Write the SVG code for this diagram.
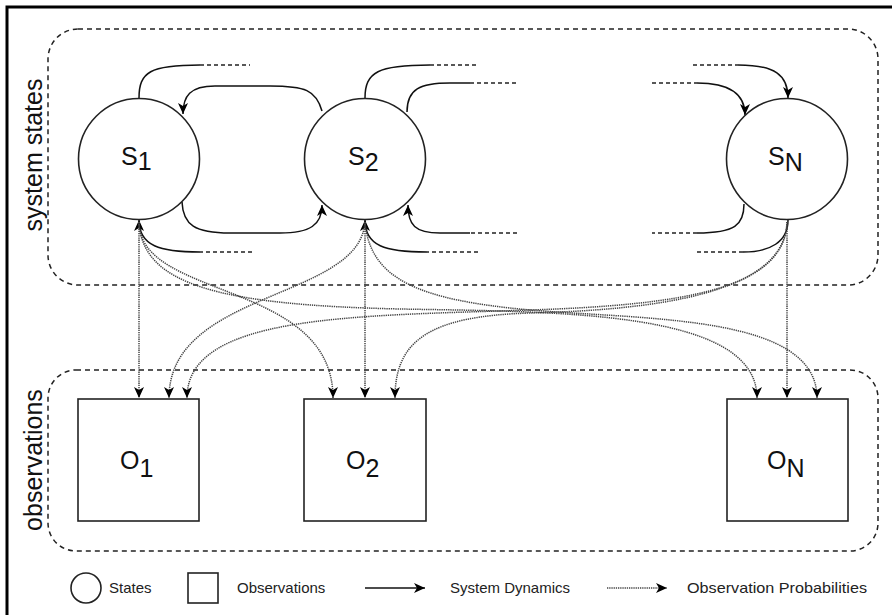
<svg xmlns="http://www.w3.org/2000/svg" width="892" height="615" viewBox="0 0 892 615">
<style>
  .frame{fill:none;stroke:#000;stroke-width:3}
  .group{fill:none;stroke:#222;stroke-width:1.5;stroke-dasharray:5 4}
  .node{fill:#fff;stroke:#222;stroke-width:1.6}
  .lbl{font-family:"Liberation Sans",Arial,sans-serif;fill:#111}
  .big{font-size:25px}
  .side{font-size:25px}
  .leg{font-size:15px;fill:#222}
  .dyn{fill:none;stroke:#111;stroke-width:1.5}
  .stub{fill:none;stroke:#222;stroke-width:1.5;stroke-dasharray:4 3}
  .obs{fill:none;stroke:#444;stroke-width:1.5;stroke-dasharray:1.3 0.9}
</style>
<defs>
  <marker id="ah" markerUnits="userSpaceOnUse" viewBox="0 0 11 10" markerWidth="11" markerHeight="10" refX="11" refY="5" orient="auto">
    <path d="M0,0 L11,5 L0,10 L3,5 Z" fill="#000"/>
  </marker>
</defs>
<rect width="892" height="615" fill="#fff"/>
<rect class="frame" x="7" y="7" width="900" height="700"/>

<g id="group-system-states">
  <rect class="group" x="48" y="29" width="830" height="256" rx="30" ry="30"/>
  <text class="lbl side" transform="translate(42,155) rotate(-90)" text-anchor="middle">system states</text>
</g>
<g id="group-observations">
  <rect class="group" x="48" y="370" width="830" height="181" rx="28" ry="28"/>
  <text class="lbl side" transform="translate(42,460) rotate(-90)" text-anchor="middle">observations</text>
</g>

<g id="connectors">
  <path class="dyn" d="M139,98 C139,72 150,65 200,65"/>
  <path class="stub" d="M200,65 L250,65"/>
  <path class="dyn" d="M322,111 C316,90 305,86 270,86 L215,86 C190,86 183,96 183,114" marker-end="url(#ah)"/>
  <path class="dyn" d="M182,202 C183,225 195,233 230,233 L280,233 C310,233 322,225 322,205" marker-end="url(#ah)"/>
  <path class="stub" d="M252,252 L200,252"/>
  <path class="dyn" d="M200,252 C160,252 139,246 139,220" marker-end="url(#ah)"/>

  <path class="dyn" d="M365,98 C365,72 378,65 430,65"/>
  <path class="stub" d="M430,65 L478,65"/>
  <path class="dyn" d="M407,112 C407,89 420,83 450,83 L470,83"/>
  <path class="stub" d="M470,83 L517,83"/>
  <path class="stub" d="M517,233 L470,233"/>
  <path class="dyn" d="M470,233 L440,233 C415,233 408,225 408,205" marker-end="url(#ah)"/>
  <path class="stub" d="M478,252 L427,252"/>
  <path class="dyn" d="M427,252 C385,252 365,246 365,220" marker-end="url(#ah)"/>

  <path class="stub" d="M693,65 L738,65"/>
  <path class="dyn" d="M738,65 C775,65 788,75 788,98" marker-end="url(#ah)"/>
  <path class="stub" d="M652,83 L697,83"/>
  <path class="dyn" d="M697,83 C730,83 745,95 745,115" marker-end="url(#ah)"/>
  <path class="dyn" d="M744,204 C744,225 735,233 697,233"/>
  <path class="stub" d="M697,233 L652,233"/>
  <path class="dyn" d="M788,220 C788,242 770,252 743,252"/>
  <path class="stub" d="M743,252 L697,252"/>

  <path class="obs" d="M139,222 L139,398" marker-end="url(#ah)"/>
  <path class="obs" d="M139,222 C139,300 333,280 333,398" marker-end="url(#ah)"/>
  <path class="obs" d="M139,222 C142,285 220,305 400,309 C560,312 757,310 757,398" marker-end="url(#ah)"/>
  <path class="obs" d="M365,222 C360,300 169,290 169,398" marker-end="url(#ah)"/>
  <path class="obs" d="M365,222 L365,398" marker-end="url(#ah)"/>
  <path class="obs" d="M365,222 C370,280 420,300 530,310 C650,320 817,315 817,398" marker-end="url(#ah)"/>
  <path class="obs" d="M787,222 C785,290 680,305 530,310 C350,316 187,315 187,398" marker-end="url(#ah)"/>
  <path class="obs" d="M787,222 C785,295 650,310 530,313 C430,316 395,340 395,398" marker-end="url(#ah)"/>
  <path class="obs" d="M787,222 L787,398" marker-end="url(#ah)"/>
</g>

<g id="node-s1">
  <circle class="node" cx="139" cy="159" r="60.5"/>
  <text class="lbl big" x="121" y="165">S<tspan dy="5">1</tspan></text>
</g>
<g id="node-s2">
  <circle class="node" cx="365" cy="159" r="60.5"/>
  <text class="lbl big" x="348" y="165">S<tspan dy="6">2</tspan></text>
</g>
<g id="node-sn">
  <circle class="node" cx="787" cy="159" r="60.5"/>
  <text class="lbl big" x="768" y="165">S<tspan dy="6">N</tspan></text>
</g>
<g id="node-o1">
  <rect class="node" x="78" y="399" width="121" height="122"/>
  <text class="lbl big" x="120" y="469">O<tspan dy="8">1</tspan></text>
</g>
<g id="node-o2">
  <rect class="node" x="304" y="399" width="122" height="122"/>
  <text class="lbl big" x="346" y="469">O<tspan dy="8">2</tspan></text>
</g>
<g id="node-on">
  <rect class="node" x="727" y="399" width="121" height="122"/>
  <text class="lbl big" x="767" y="469">O<tspan dy="8">N</tspan></text>
</g>

<g id="legend">
  <circle class="node" cx="86" cy="588" r="15"/>
  <text class="lbl leg" x="109" y="593">States</text>
  <rect class="node" x="188" y="573" width="30" height="30"/>
  <text class="lbl leg" x="237" y="593">Observations</text>
  <path class="dyn" d="M365,588 L425,588" marker-end="url(#ah)"/>
  <text class="lbl leg" x="450" y="593">System Dynamics</text>
  <path class="obs" d="M607,588 L667,588" marker-end="url(#ah)"/>
  <text class="lbl leg" x="687" y="593" textLength="180" lengthAdjust="spacingAndGlyphs">Observation Probabilities</text>
</g>
</svg>
